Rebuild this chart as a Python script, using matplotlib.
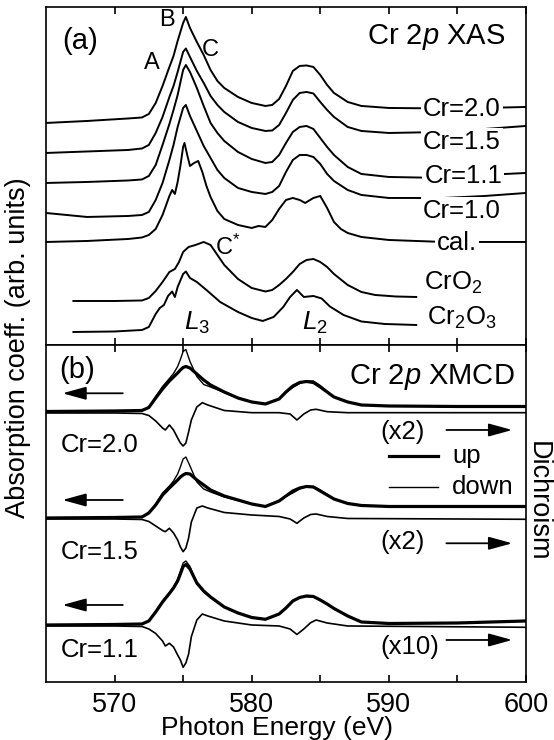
import matplotlib
matplotlib.use('Agg')
import matplotlib.pyplot as plt

plt.rcParams['font.family'] = ['Liberation Sans', 'DejaVu Sans']
plt.rcParams['mathtext.fontset'] = 'custom'
plt.rcParams['mathtext.rm'] = 'Liberation Sans'
plt.rcParams['mathtext.it'] = 'Liberation Sans:italic'

# (a) Cr 2p XAS, intensity above the pre-edge (arb. units)
e_xas = [565, 568, 571, 572, 572.5, 573, 573.5, 574, 574.3, 574.6, 575, 575.2, 575.5, 576, 576.5,
         577, 577.5, 578, 579, 580, 581, 581.5, 582, 582.5, 583, 583.5, 584, 584.5, 585, 585.5,
         586, 587, 588, 590, 594, 597, 600]
xas_cr20 = [0, 0.02, 0.045, 0.055, 0.09, 0.20, 0.37, 0.56, 0.67, 0.82, 1.00, 1.06, 0.95, 0.81, 0.68,
            0.53, 0.42, 0.35, 0.26, 0.20, 0.17, 0.18, 0.24, 0.37, 0.52, 0.57, 0.575, 0.56, 0.48, 0.38,
            0.30, 0.21, 0.17, 0.15, 0.145, 0.15, 0.16]
xas_cr15 = [0, 0.015, 0.03, 0.045, 0.08, 0.20, 0.36, 0.56, 0.67, 0.81, 1.01, 1.045, 0.96, 0.82, 0.70,
            0.57, 0.48, 0.41, 0.31, 0.25, 0.22, 0.225, 0.28, 0.40, 0.53, 0.60, 0.61, 0.595, 0.51, 0.43,
            0.36, 0.26, 0.22, 0.20, 0.21, 0.24, 0.27]
xas_cr11 = [0, 0.01, 0.025, 0.035, 0.07, 0.18, 0.38, 0.59, 0.73, 0.88, 1.13, 1.18, 1.11, 0.95, 0.77,
            0.60, 0.50, 0.42, 0.31, 0.24, 0.20, 0.21, 0.28, 0.40, 0.51, 0.56, 0.57, 0.54, 0.45, 0.36,
            0.28, 0.16, 0.09, 0.06, 0.05, 0.08, 0.10]
xas_cr10 = [0.04, 0.0, 0.01, 0.02, 0.05, 0.17, 0.34, 0.57, 0.72, 0.90, 1.09, 1.12, 1.01, 0.86, 0.71,
            0.59, 0.47, 0.39, 0.29, 0.25, 0.23, 0.25, 0.31, 0.45, 0.57, 0.62, 0.62, 0.60, 0.53, 0.43,
            0.36, 0.27, 0.22, 0.19, 0.19, 0.21, 0.24]

e_cal = [565, 568, 571, 572, 572.5, 573, 573.5, 574, 574.2, 574.4, 574.6, 574.8, 575, 575.1, 575.3,
         575.5, 575.8, 576.1, 576.4, 576.7, 577, 577.5, 578, 579, 580, 580.5, 581, 581.5, 582, 582.5,
         583, 583.5, 583.9, 584.5, 585, 585.5, 586, 586.5, 587, 588, 590, 594, 600]
xas_cal = [0, 0.01, 0.03, 0.045, 0.07, 0.13, 0.27, 0.46, 0.52, 0.48, 0.60, 0.76, 0.95, 0.99, 0.87,
           0.76, 0.79, 0.81, 0.70, 0.56, 0.45, 0.31, 0.23, 0.17, 0.14, 0.16, 0.15, 0.22, 0.33, 0.42,
           0.44, 0.42, 0.39, 0.44, 0.46, 0.34, 0.20, 0.13, 0.09, 0.05, 0.02, 0.0, 0.0]

e_cro2 = [567, 570, 572, 572.5, 573, 573.5, 574, 574.4, 574.7, 575, 575.4, 575.9, 576.5, 577, 577.5,
          578, 579, 580, 581, 581.5, 582, 582.5, 583, 583.5, 584, 584.5, 585, 585.5, 586, 587,
          588, 589, 590.5, 592]
xas_cro2 = [0, 0, 0.005, 0.03, 0.10, 0.19, 0.29, 0.32, 0.39, 0.49, 0.54, 0.56, 0.59, 0.56, 0.46,
            0.36, 0.22, 0.13, 0.095, 0.11, 0.16, 0.22, 0.29, 0.37, 0.41, 0.42, 0.39, 0.34, 0.27, 0.16,
            0.09, 0.06, 0.045, 0.04]

e_cr2o3 = [567, 570, 572, 572.5, 573, 573.3, 573.6, 573.9, 574.2, 574.4, 574.6, 575, 575.2, 575.5, 576,
           576.7, 577.7, 579, 580, 580.8, 581.6, 582.3, 582.8, 583.3, 583.8, 584.5, 585.1, 585.7,
           586.7, 588, 589.7, 592]
xas_cr2o3 = [0, 0.005, 0.02, 0.05, 0.18, 0.24, 0.27, 0.36, 0.405, 0.35, 0.45, 0.58, 0.605, 0.54, 0.50,
             0.42, 0.30, 0.20, 0.14, 0.11, 0.15, 0.25, 0.35, 0.42, 0.35, 0.36, 0.335, 0.255,
             0.17, 0.105, 0.08, 0.07]

xas_names = ['Cr=2.0', 'Cr=1.5', 'Cr=1.1', 'Cr=1.0', 'cal.', 'CrO$_2$', 'Cr$_2$O$_3$']
xas_offsets = [2.22, 1.92, 1.62, 1.28, 1.03, 0.44, 0.13]

# (b) Cr 2p XMCD, up / down spectra and dichroism
e_mcd = [565, 570, 572, 572.5, 573, 573.5, 574, 574.3, 574.6, 574.8, 575, 575.2, 575.5, 576, 576.5,
         577, 578, 579, 580, 581, 582, 582.5, 583, 583.5, 584, 584.5, 585, 585.5, 586, 587,
         588, 590, 595, 600]
up_cr20 = [0, 0.005, 0.01, 0.04, 0.135, 0.225, 0.305, 0.345, 0.385, 0.415, 0.44, 0.45, 0.435, 0.375, 0.315,
           0.265, 0.195, 0.135, 0.095, 0.075, 0.125, 0.195, 0.255, 0.29, 0.30, 0.29, 0.245, 0.195, 0.145, 0.095,
           0.065, 0.055, 0.05, 0.05]
down_cr20 = [0, 0.005, 0.01, 0.04, 0.15, 0.25, 0.33, 0.38, 0.45, 0.52, 0.60, 0.62, 0.50, 0.35, 0.27,
             0.245, 0.19, 0.135, 0.095, 0.075, 0.125, 0.19, 0.24, 0.28, 0.305, 0.305, 0.26, 0.20, 0.145, 0.095,
             0.065, 0.055, 0.05, 0.05]
up_cr15 = [0, 0.005, 0.01, 0.05, 0.13, 0.23, 0.30, 0.34, 0.38, 0.41, 0.43, 0.445, 0.44, 0.38, 0.33,
           0.28, 0.22, 0.18, 0.14, 0.115, 0.17, 0.22, 0.27, 0.30, 0.315, 0.31, 0.27, 0.23, 0.19, 0.145,
           0.125, 0.115, 0.115, 0.115]
down_cr15 = [0, 0.005, 0.01, 0.05, 0.14, 0.25, 0.32, 0.37, 0.44, 0.51, 0.59, 0.61, 0.52, 0.36, 0.29,
             0.26, 0.21, 0.175, 0.14, 0.115, 0.17, 0.215, 0.25, 0.29, 0.315, 0.315, 0.28, 0.235, 0.19, 0.145,
             0.125, 0.115, 0.115, 0.115]
up_cr11 = [0, 0.005, 0.01, 0.04, 0.13, 0.23, 0.315, 0.37, 0.44, 0.51, 0.585, 0.605, 0.56, 0.42, 0.34,
           0.28, 0.18, 0.12, 0.075, 0.057, 0.11, 0.17, 0.24, 0.275, 0.29, 0.285, 0.25, 0.21, 0.165, 0.09,
           0.03, 0.015, 0.02, 0.04]
down_cr11 = [0, 0.005, 0.01, 0.04, 0.135, 0.24, 0.325, 0.38, 0.455, 0.535, 0.62, 0.64, 0.585, 0.41, 0.33,
             0.275, 0.18, 0.12, 0.075, 0.057, 0.11, 0.17, 0.245, 0.275, 0.285, 0.28, 0.25, 0.21, 0.165, 0.09,
             0.03, 0.015, 0.02, 0.04]

e_dich = [565, 570, 572, 572.5, 573, 573.5, 573.7, 574, 574.3, 574.6, 574.8, 575, 575.2, 575.4, 575.6,
          576, 576.4, 576.8, 578, 580, 582, 582.8, 583.3, 583.8, 584.3, 584.7, 585.5, 587, 600]
dich_cr20 = [0, 0, -0.005, -0.025, -0.08, -0.15, -0.17, -0.12, -0.17, -0.25, -0.30, -0.33, -0.30, -0.19, -0.07,
             0.06, 0.103, 0.08, 0.025, 0.003, 0.003, -0.01, -0.07, -0.01, 0.03, 0.037, 0.013, 0.003, 0.003]
dich_cr15 = [0, 0, -0.005, -0.025, -0.07, -0.115, -0.127, -0.093, -0.14, -0.21, -0.28, -0.327, -0.29, -0.19, -0.03,
             0.11, 0.13, 0.11, 0.065, 0.04, 0.025, 0.0, -0.043, 0.01, 0.045, 0.05, 0.025, 0.005, -0.003]
dich_cr11 = [0, 0, -0.005, -0.03, -0.075, -0.15, -0.20, -0.173, -0.21, -0.29, -0.34, -0.413, -0.37, -0.28, -0.107,
             0.06, 0.12, 0.10, 0.05, 0.01, 0.0, -0.03, -0.085, -0.03, 0.033, 0.06, 0.03, 0.0, -0.013]

mcd_names = ['Cr=2.0', 'Cr=1.5', 'Cr=1.1']
mcd_scales = ['(x2)', '(x2)', '(x10)']
xas_b_offsets = [2.705, 1.64, 0.57]
dich_offsets = [2.69, 1.63, 0.56]

FS = 19.5
fig = plt.figure(figsize=(5.54, 7.40), dpi=100)
ax1 = fig.add_axes([0.083, 0.5338, 0.8664, 0.4568])
ax2 = fig.add_axes([0.083, 0.0784, 0.8664, 0.4554])

for ax in (ax1, ax2):
    ax.set_xlim(565, 600)
    ax.set_xticks([570, 580, 590, 600])
    ax.set_xticks([575, 585, 595], minor=True)
    ax.set_yticks([])
    ax.tick_params(which='both', direction='in', top=True, bottom=True, left=False, right=False,
                   length=5, width=1.2, labelsize=FS, pad=7)
    for s in ax.spines.values():
        s.set_linewidth(1.2)
ax1.tick_params(labelbottom=False)
ax1.set_ylim(0, 3.38)
ax2.set_ylim(0, 3.37)

# panel (a)
a_x = [e_xas, e_xas, e_xas, e_xas, e_cal, e_cro2, e_cr2o3]
a_y = [xas_cr20, xas_cr15, xas_cr11, xas_cr10, xas_cal, xas_cro2, xas_cr2o3]
a_lab_x = [592.5, 592.5, 592.6, 592.5, 593.5, 592.6, 592.8]
a_lab_y = [2.36, 2.03, 1.69, 1.34, 1.02, 0.625, 0.275]
for x, y, off, name, lx, ly in zip(a_x, a_y, xas_offsets, xas_names, a_lab_x, a_lab_y):
    ax1.plot(x, [v + off for v in y], color='k', lw=1.4)
    ax1.text(lx, ly, name, fontsize=18.5, ha='left', va='center',
             bbox=dict(facecolor='white', edgecolor='none', pad=1.5))

ax1.text(566.2, 3.04, '(a)', fontsize=21, va='center')
ax1.text(598.5, 3.08, 'Cr 2$p$ XAS', fontsize=21, ha='right', va='center')
ax1.text(572.7, 2.82, 'A', fontsize=17, ha='center', va='center')
ax1.text(573.8, 3.25, 'B', fontsize=17, ha='center', va='center')
ax1.text(577.0, 2.95, 'C', fontsize=17, ha='center', va='center')
ax1.text(577.3, 0.98, 'C$^{*}$', fontsize=17, ha='left', va='center')
ax1.text(575.1, 0.22, '$L_3$', fontsize=19, ha='left', va='center')
ax1.text(583.7, 0.22, '$L_2$', fontsize=19, ha='left', va='center')

# panel (b)
groups = [(up_cr20, down_cr20, dich_cr20), (up_cr15, down_cr15, dich_cr15), (up_cr11, down_cr11, dich_cr11)]
name_y = [2.37, 1.30, 0.32]
left_arrow_y = [2.887, 1.82, 0.77]
right_arrow_y = [2.52, 1.387, 0.42]
scale_y = [2.50, 1.40, 0.353]
for (up, down, dich), xo, do, name, ny, lay, ray, sy, sc in zip(groups, xas_b_offsets, dich_offsets, mcd_names,
                                                               name_y, left_arrow_y, right_arrow_y, scale_y, mcd_scales):
    ax2.plot(e_mcd, [v + xo for v in up], color='k', lw=2.3)
    ax2.plot(e_mcd, [v + xo for v in down], color='k', lw=1.0)
    ax2.plot(e_dich, [v + do for v in dich], color='k', lw=1.2)
    ax2.text(566.1, ny, name, fontsize=18.5, ha='left', va='center')
    ax2.annotate('', xy=(566.2, lay), xytext=(570.6, lay),
                 arrowprops=dict(arrowstyle='-|>,head_length=0.8,head_width=0.22', color='k', lw=1.3,
                                 mutation_scale=18, shrinkA=0, shrinkB=0))
    ax2.annotate('', xy=(599.0, ray), xytext=(594.2, ray),
                 arrowprops=dict(arrowstyle='-|>,head_length=0.8,head_width=0.22', color='k', lw=1.3,
                                 mutation_scale=18, shrinkA=0, shrinkB=0))
    ax2.text(589.35, sy, sc, fontsize=18.5, ha='left', va='center')

ax2.text(566.0, 3.12, '(b)', fontsize=21, va='center')
ax2.text(599.2, 3.05, 'Cr 2$p$ XMCD', fontsize=21, ha='right', va='center')
ax2.plot([590.0, 593.6], [2.26, 2.26], color='k', lw=2.3)
ax2.plot([590.0, 593.6], [1.953, 1.953], color='k', lw=1.0)
ax2.text(594.6, 2.26, 'up', fontsize=18.5, va='center')
ax2.text(594.6, 1.953, 'down', fontsize=18.5, va='center')

fig.text(0.5, 0.0065, 'Photon Energy (eV)', fontsize=19, ha='center', va='baseline')
fig.text(0.033, 0.530, 'Absorption coeff. (arb. units)', fontsize=FS, rotation=90, ha='center', va='center')
fig.text(0.971, 0.322, 'Dichroism', fontsize=FS, rotation=270, ha='center', va='center')

fig.savefig('out.png', dpi=100)
